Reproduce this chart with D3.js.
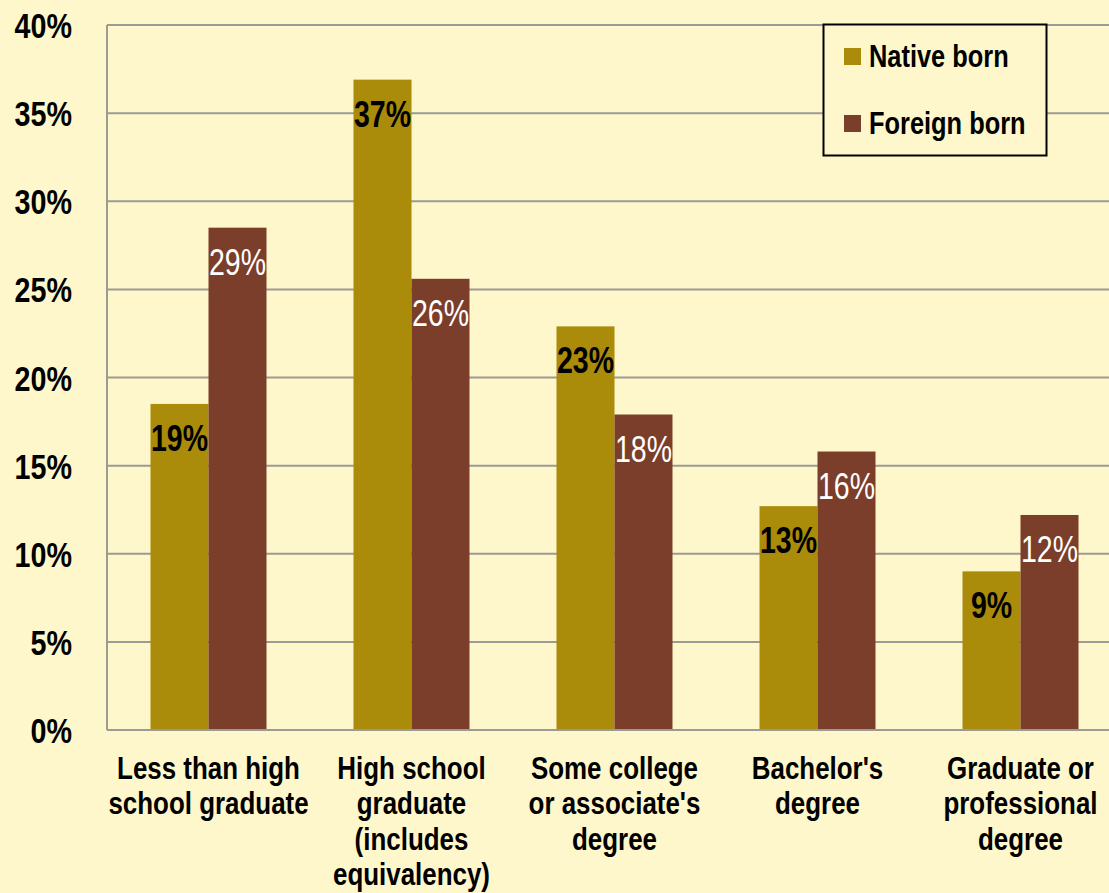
<!DOCTYPE html>
<html>
<head>
<meta charset="utf-8">
<script src="https://cdn.jsdelivr.net/npm/d3@7"></script>
<style>
  html, body { margin: 0; padding: 0; background: #FEF7CB; }
  svg { display: block; }
  text { font-family: "Liberation Sans", Arial, sans-serif; }
</style>
</head>
<body>
<svg id="chart" width="1109" height="893"></svg>
<script>
// Educational attainment, native vs. foreign born (percent of population)
const categories = [
  ["Less than high", "school graduate"],
  ["High school", "graduate", "(includes", "equivalency)"],
  ["Some college", "or associate's", "degree"],
  ["Bachelor's", "degree"],
  ["Graduate or", "professional", "degree"]
];
const seriesNames = ["Native born", "Foreign born"];
const nativeBorn  = [18.5, 36.9, 22.9, 12.7, 9.0];
const foreignBorn = [28.5, 25.6, 17.9, 15.8, 12.2];
const yTicks = [0, 5, 10, 15, 20, 25, 30, 35, 40];

const colors = ["#AA8B0A", "#7A3E2B"];
const labelColors = ["#000000", "#FFFFFF"];
const labelWeights = ["bold", "normal"];

// narrow lettering: regular face squeezed horizontally
const narrow = k => `scale(${k},1)`;

const W = 1109, H = 893;
const plot = { left: 107, top: 25, bottom: 730, right: 1122 };

const svg = d3.select("#chart");

svg.append("rect").attr("width", W).attr("height", H).attr("fill", "#FEF7CB");

const keys = categories.map((c, i) => i);
const x = d3.scaleBand()
  .domain(keys)
  .range([plot.left, plot.right])
  .paddingInner(0.4286)
  .paddingOuter(0.2143);

const xs = d3.scaleBand()
  .domain([0, 1])
  .range([0, x.bandwidth()]);

const y = d3.scaleLinear().domain([0, 40]).range([plot.bottom, plot.top]);

// horizontal gridlines
svg.append("g")
  .selectAll("line")
  .data(yTicks.filter(t => t > 0))
  .join("line")
  .attr("x1", plot.left).attr("x2", W)
  .attr("y1", d => y(d)).attr("y2", d => y(d))
  .attr("stroke", "#9c9a92").attr("stroke-width", 2);

// y axis labels
const yAxis = d3.axisLeft(y).tickValues(yTicks).tickSize(0).tickPadding(0)
  .tickFormat(d => d + "%");
const gy = svg.append("g").attr("transform", `translate(${72},0)`).call(yAxis);
gy.select(".domain").remove();
gy.attr("font-family", null).attr("font-size", null);
gy.selectAll("text")
  .attr("x", 0)
  .attr("dy", "0.36em")
  .attr("transform", narrow(0.82))
  .style("font-size", "35px")
  .style("font-weight", "bold")
  .attr("fill", "#000");

// bars
const data = keys.map(i => [nativeBorn[i], foreignBorn[i]]);
const groups = svg.append("g")
  .selectAll("g")
  .data(data)
  .join("g")
  .attr("transform", (d, i) => `translate(${x(i)},0)`);

groups.selectAll("rect")
  .data(d => d.map((v, s) => ({ v, s })))
  .join("rect")
  .attr("x", d => xs(d.s))
  .attr("width", xs.bandwidth())
  .attr("y", d => y(d.v))
  .attr("height", d => y(0) - y(d.v))
  .attr("fill", d => colors[d.s]);

// value labels
groups.selectAll("text")
  .data(d => d.map((v, s) => ({ v, s })))
  .join("text")
  .attr("transform", d => `translate(${xs(d.s) + xs.bandwidth() / 2},${y(d.v) + 47}) ${narrow(0.77)}`)
  .attr("text-anchor", "middle")
  .style("font-size", "37px")
  .style("font-weight", d => labelWeights[d.s])
  .attr("fill", d => labelColors[d.s])
  .text(d => Math.round(d.v) + "%");

// axes lines
svg.append("line")
  .attr("x1", plot.left).attr("x2", plot.left)
  .attr("y1", plot.top).attr("y2", plot.bottom)
  .attr("stroke", "#9c9a92").attr("stroke-width", 2);
svg.append("line")
  .attr("x1", plot.left).attr("x2", W)
  .attr("y1", plot.bottom).attr("y2", plot.bottom)
  .attr("stroke", "#9c9a92").attr("stroke-width", 2);

// category labels
const catG = svg.append("g")
  .selectAll("text")
  .data(categories)
  .join("text")
  .attr("text-anchor", "middle")
  .attr("transform", (d, i) => `translate(${x(i) + x.bandwidth() / 2},0) ${narrow(0.85)}`)
  .style("font-size", "30.5px")
  .style("font-weight", "bold")
  .attr("fill", "#000");
catG.selectAll("tspan")
  .data(d => d)
  .join("tspan")
  .attr("x", 0)
  .attr("y", (d, j) => 779 + j * 35.5)
  .text(d => d);

// legend
const legend = svg.append("g");
legend.append("rect")
  .attr("x", 823.5).attr("y", 24.5)
  .attr("width", 223).attr("height", 131)
  .attr("fill", "#FEF7CB")
  .attr("stroke", "#000").attr("stroke-width", 2);
const li = legend.selectAll("g")
  .data(seriesNames)
  .join("g")
  .attr("transform", (d, i) => `translate(844,${48 + i * 67})`);
li.append("rect")
  .attr("width", 17).attr("height", 17)
  .attr("fill", (d, i) => colors[i]);
li.append("text")
  .attr("transform", `translate(25,19) ${narrow(0.82)}`)
  .style("font-size", "31px")
  .style("font-weight", "bold")
  .attr("fill", "#000")
  .text(d => d);
</script>
</body>
</html>
